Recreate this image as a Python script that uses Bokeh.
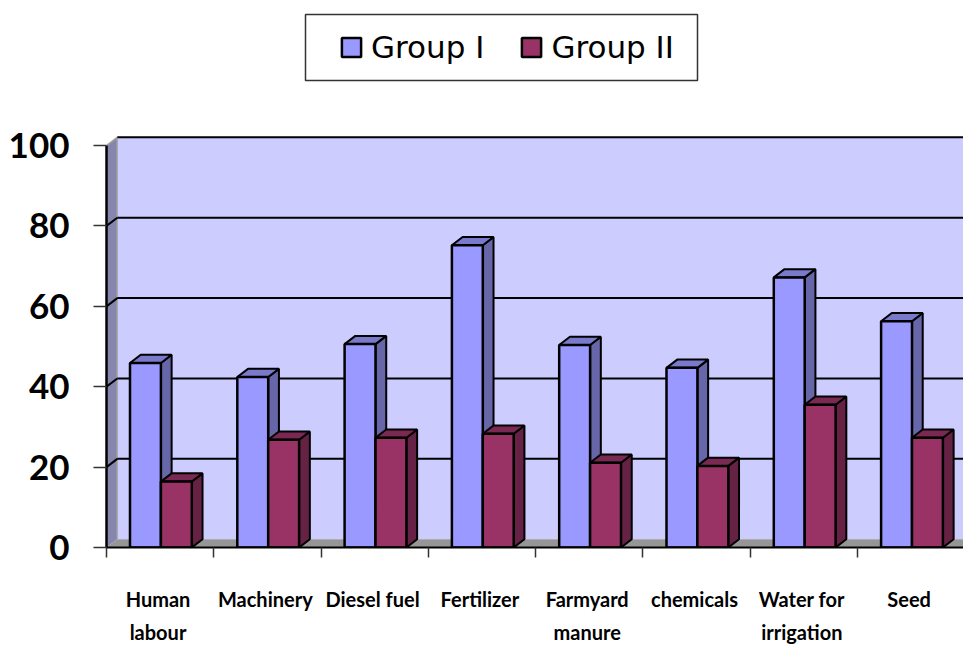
from bokeh.plotting import figure
from bokeh.embed import file_html
from bokeh.resources import INLINE
from bokeh.layouts import column
from bokeh.models import Range1d, FixedTicker, Legend, LegendItem, LinearAxis

line1 = ["Human", "Machinery", "Diesel fuel", "Fertilizer", "Farmyard", "chemicals", "Water for", "Seed"]
line2 = ["labour", "", "", "", "manure", "", "irrigation", ""]
group1 = [45.9, 42.4, 50.6, 75.2, 50.4, 44.7, 67.2, 56.3]
group2 = [16.4, 26.8, 27.3, 28.3, 21.1, 20.3, 35.5, 27.3]
yticks = [0, 20, 40, 60, 80, 100]
names = ["Group I", "Group II"]
front_colors = ["#9999ff", "#993366"]

DX, DY = 0.1, 2.05
OFF, BW = 0.219, 0.288
XMAX = 7.987
n = len(line1)

p = figure(width=963, height=546, x_range=Range1d(0, XMAX), y_range=Range1d(0, 103),
           output_backend="svg", toolbar_location=None,
           min_border_left=106, min_border_right=0, min_border_top=33, min_border_bottom=98)
p.outline_line_color = None
p.xgrid.visible = False
p.ygrid.visible = False

# walls and floor
p.quad(left=DX, right=XMAX, bottom=DY, top=100 + DY, fill_color="#ccccff", line_color=None)
p.patch([0, DX, DX, 0], [0, DY, 100 + DY, 100], fill_color="#8585ad", line_color=None)
p.patch([0, DX, XMAX, XMAX], [0, DY, DY, 0], fill_color="#969696", line_color=None)
p.segment(DX, DY, DX, 100 + DY, line_color="#a8a8a8", line_width=1.5)

# gridlines on the wall
gv = yticks[1:]
p.segment([DX] * len(gv), [v + DY for v in gv], [XMAX] * len(gv), [v + DY for v in gv],
          line_color="black", line_width=2)
p.segment([0] * (len(gv) - 1), gv[:-1], [DX] * (len(gv) - 1), [v + DY for v in gv[:-1]],
          line_color="black", line_width=2)
p.segment([0], [100], [DX], [100 + DY], line_color="#a0a0a0", line_width=1.5)


def bars(vals, start, front, side, top):
    l = [i + start for i in range(n)]
    r = [a + BW for a in l]
    p.patches([[a, a + DX, a + DX, a] for a in r],
              [[0, DY, v + DY, v] for v in vals],
              fill_color=side, line_color="black", line_width=2)
    p.patches([[a, b, b + DX, a + DX] for a, b in zip(l, r)],
              [[v, v, v + DY, v + DY] for v in vals],
              fill_color=top, line_color="black", line_width=2)
    p.quad(left=l, right=r, bottom=0, top=vals,
           fill_color=front, line_color="black", line_width=2.5)


bars(group1, OFF, front_colors[0], "#6666a8", "#7a7acc")
bars(group2, OFF + BW, front_colors[1], "#662244", "#7a2952")

# axes
p.yaxis.ticker = FixedTicker(ticks=yticks)
p.yaxis.bounds = (0, 100)
p.yaxis.major_tick_out = 13
p.yaxis.major_tick_in = 0
p.yaxis.minor_tick_out = 0
p.yaxis.axis_line_color = "black"
p.yaxis.axis_line_width = 2.5
p.yaxis.major_tick_line_color = "#333333"
p.yaxis.major_tick_line_width = 1.5
p.yaxis.major_label_text_font = "Lato"
p.yaxis.major_label_text_font_style = "bold"
p.yaxis.major_label_text_font_size = "35px"
p.yaxis.major_label_text_color = "black"
p.yaxis.major_label_standoff = 24

# category labels: first line on the real axis (boundaries as minor ticks), second line on an axis below
centres = [i + 0.48 for i in range(n)]
p.xaxis.ticker = FixedTicker(ticks=centres, minor_ticks=list(range(n)))
p.xaxis.major_label_overrides = dict(zip(centres, line1))
p.xaxis.major_tick_line_color = None
p.xaxis.minor_tick_out = 10
p.xaxis.minor_tick_in = 0
p.xaxis.minor_tick_line_color = "#333333"
p.xaxis.minor_tick_line_width = 1.5
p.xaxis.axis_line_color = "black"
p.xaxis.axis_line_width = 2
p.xaxis.major_label_standoff = 29
p.xaxis.major_label_text_font = "Lato"
p.xaxis.major_label_text_font_style = "bold"
p.xaxis.major_label_text_font_size = "20px"
p.xaxis.major_label_text_color = "black"

second = {c: t for c, t in zip(centres, line2) if t}
ax = LinearAxis(ticker=FixedTicker(ticks=list(second)), major_label_overrides=second,
                axis_line_color=None, major_tick_line_color=None, minor_tick_line_color=None,
                major_label_standoff=0, major_label_text_font="Lato",
                major_label_text_font_style="bold", major_label_text_font_size="20px",
                major_label_text_color="black", major_label_text_line_height=0.8)
p.add_layout(ax, "below")

# legend strip above the plot
lp = figure(width=963, height=100, x_range=Range1d(106, 963), y_range=Range1d(100, 0),
            output_backend="svg", toolbar_location=None, min_border_left=106,
            min_border_right=0, min_border_top=0, min_border_bottom=0)
lp.outline_line_color = None
lp.axis.visible = False
lp.grid.visible = False
lp.quad(left=305, right=697, top=14, bottom=80, fill_color="white", line_color="#333333", line_width=1.5)
items = []
for name, col in zip(names, front_colors):
    r = lp.quad(left=[-20], right=[-10], top=[-20], bottom=[-10], fill_color=col,
                line_color="black", line_width=2.5)
    items.append(LegendItem(label=name, renderers=[r]))
lp.add_layout(Legend(items=items, orientation="horizontal", location=(233, 35), padding=0, margin=0,
                     border_line_color=None, background_fill_alpha=0,
                     label_text_font="DejaVu Sans", label_text_font_size="31px",
                     label_text_color="black", glyph_width=24, glyph_height=24,
                     label_standoff=8, spacing=35))

open("out.html", "w").write(file_html(column(lp, p, spacing=0), INLINE))
